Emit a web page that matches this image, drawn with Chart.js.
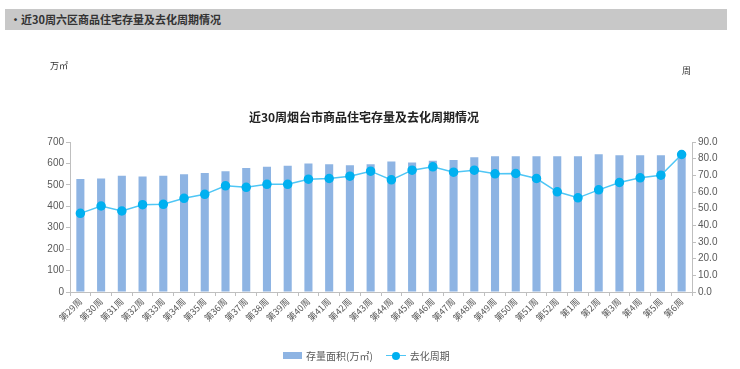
<!DOCTYPE html>
<html>
<head>
<meta charset="utf-8">
<script src="https://cdn.jsdelivr.net/npm/chart.js@4"></script>
<style>
    body { margin: 0; background: #fff; font-family: "Noto Sans CJK SC", "Liberation Sans", sans-serif; }
    #wrap { position: relative; width: 740px; height: 369px; overflow: hidden; }
    #chart { position: absolute; left: 0; top: 0; }
    .header { position: absolute; left: 5px; top: 9px; width: 722px; height: 21px; background: #c8c8c8;
              font-size: 11px; font-weight: bold; color: #333; line-height: 21px; padding-left: 5px; box-sizing: border-box; }
    .title { position: absolute; left: 0; width: 728px; top: 108px; text-align: center;
             font-size: 12px; font-weight: bold; color: #222; }
    .unit { position: absolute; font-size: 9px; color: #333; }
    .legend { position: absolute; top: 348px; left: 283px; font-size: 10px; color: #595959; display: flex; align-items: center; }
    .sw-bar { width: 19px; height: 7px; background: #8eb4e3; margin-right: 4px; }
    .sw-line { position: relative; width: 20px; height: 10px; margin: 0 4px 0 13px; }
    .sw-line:before { content: ""; position: absolute; left: 0; right: 0; top: 4px; border-top: 1.5px solid #4fc6f5; }
    .sw-line:after { content: ""; position: absolute; left: 6px; top: 1px; width: 8px; height: 8px; border-radius: 50%; background: #00b0f0; }
</style>
</head>
<body>
<div id="wrap">
    <canvas id="chart" width="740" height="369"></canvas>
    <div class="header">•近30周六区商品住宅存量及去化周期情况</div>
    <div class="title">近30周烟台市商品住宅存量及去化周期情况</div>
    <div class="unit" style="left:50px; top:59px;">万㎡</div>
    <div class="unit" style="left:682px; top:64px;">周</div>
    <div class="legend">
        <div class="sw-bar"></div><span>存量面积(万㎡)</span>
        <div class="sw-line"></div><span>去化周期</span>
    </div>
</div>
<script>
// Weeks
const weeks = ['第29周', '第30周', '第31周', '第32周', '第33周', '第34周', '第35周', '第36周', '第37周', '第38周',
    '第39周', '第40周', '第41周', '第42周', '第43周', '第44周', '第45周', '第46周', '第47周', '第48周',
    '第49周', '第50周', '第51周', '第52周', '第1周', '第2周', '第3周', '第4周', '第5周', '第6周'];

// Stock area (10k m2)
const stockArea = [527, 530, 542, 539, 542, 549, 555, 564, 579, 584,
    589, 600, 596, 592, 596, 609, 604, 612, 616, 629,
    634, 634, 634, 634, 634, 643, 638, 638, 638, 638];

// Clearance cycle (weeks)
const cycle = [47.2, 51.6, 48.6, 52.4, 52.6, 56.2, 58.6, 63.7, 62.8, 64.6,
    64.6, 67.7, 68.1, 69.5, 72.5, 67.3, 73.1, 75.1, 71.9, 73.1,
    70.9, 71.1, 68.1, 60.1, 56.5, 61.3, 65.7, 68.5, 70.1, 82.5];

const leftTicks = [0, 100, 200, 300, 400, 500, 600, 700];
const rightTicks = [0, 10, 20, 30, 40, 50, 60, 70, 80, 90];

const axisColor = '#bfbfbf';
const textColor = '#595959';
const tickFont = { family: '"Liberation Sans", sans-serif', size: 10 };

const ctx = document.getElementById('chart').getContext('2d');
new Chart(ctx, {
    type: 'bar',
    data: {
        labels: weeks,
        datasets: [{
            type: 'line',
            label: '去化周期',
            data: cycle,
            yAxisID: 'y1',
            borderColor: '#4fc6f5',
            borderWidth: 1.5,
            pointBackgroundColor: '#00b0f0',
            pointBorderColor: '#00b0f0',
            pointRadius: 4,
            tension: 0,
            order: 0
        }, {
            label: '存量面积(万㎡)',
            data: stockArea,
            yAxisID: 'y',
            backgroundColor: '#8eb4e3',
            categoryPercentage: 1,
            barPercentage: 0.39,
            order: 1
        }]
    },
    options: {
        responsive: false,
        animation: false,
        layout: { padding: { top: 142, left: 0, right: 0, bottom: 0 } },
        plugins: {
            legend: { display: false },
            tooltip: { enabled: false }
        },
        scales: {
            x: {
                offset: true,
                grid: { offset: true, drawOnChartArea: false, drawTicks: true, tickLength: 4, color: axisColor },
                border: { color: axisColor },
                ticks: {
                    color: textColor,
                    font: { family: '"Noto Sans CJK SC", sans-serif', size: 9 },
                    minRotation: 45,
                    maxRotation: 45,
                    autoSkip: false,
                    padding: 0
                },
                afterFit: function(scale) { scale.height = 77; }
            },
            y: {
                position: 'left',
                min: 0,
                max: 700,
                afterBuildTicks: function(scale) { scale.ticks = leftTicks.map(v => ({ value: v })); },
                grid: { drawOnChartArea: false, drawTicks: true, tickLength: 4, color: axisColor },
                border: { color: axisColor },
                ticks: { color: textColor, font: tickFont, padding: 2 },
                afterFit: function(scale) { scale.width = 70; }
            },
            y1: {
                position: 'right',
                min: 0,
                max: 90,
                afterBuildTicks: function(scale) { scale.ticks = rightTicks.map(v => ({ value: v })); },
                grid: { drawOnChartArea: false, drawTicks: true, tickLength: 4, color: axisColor },
                border: { color: axisColor },
                ticks: {
                    color: textColor,
                    font: tickFont,
                    padding: 2,
                    callback: function(value) { return value.toFixed(1); }
                },
                afterFit: function(scale) { scale.width = 48; }
            }
        }
    }
});
</script>
</body>
</html>
